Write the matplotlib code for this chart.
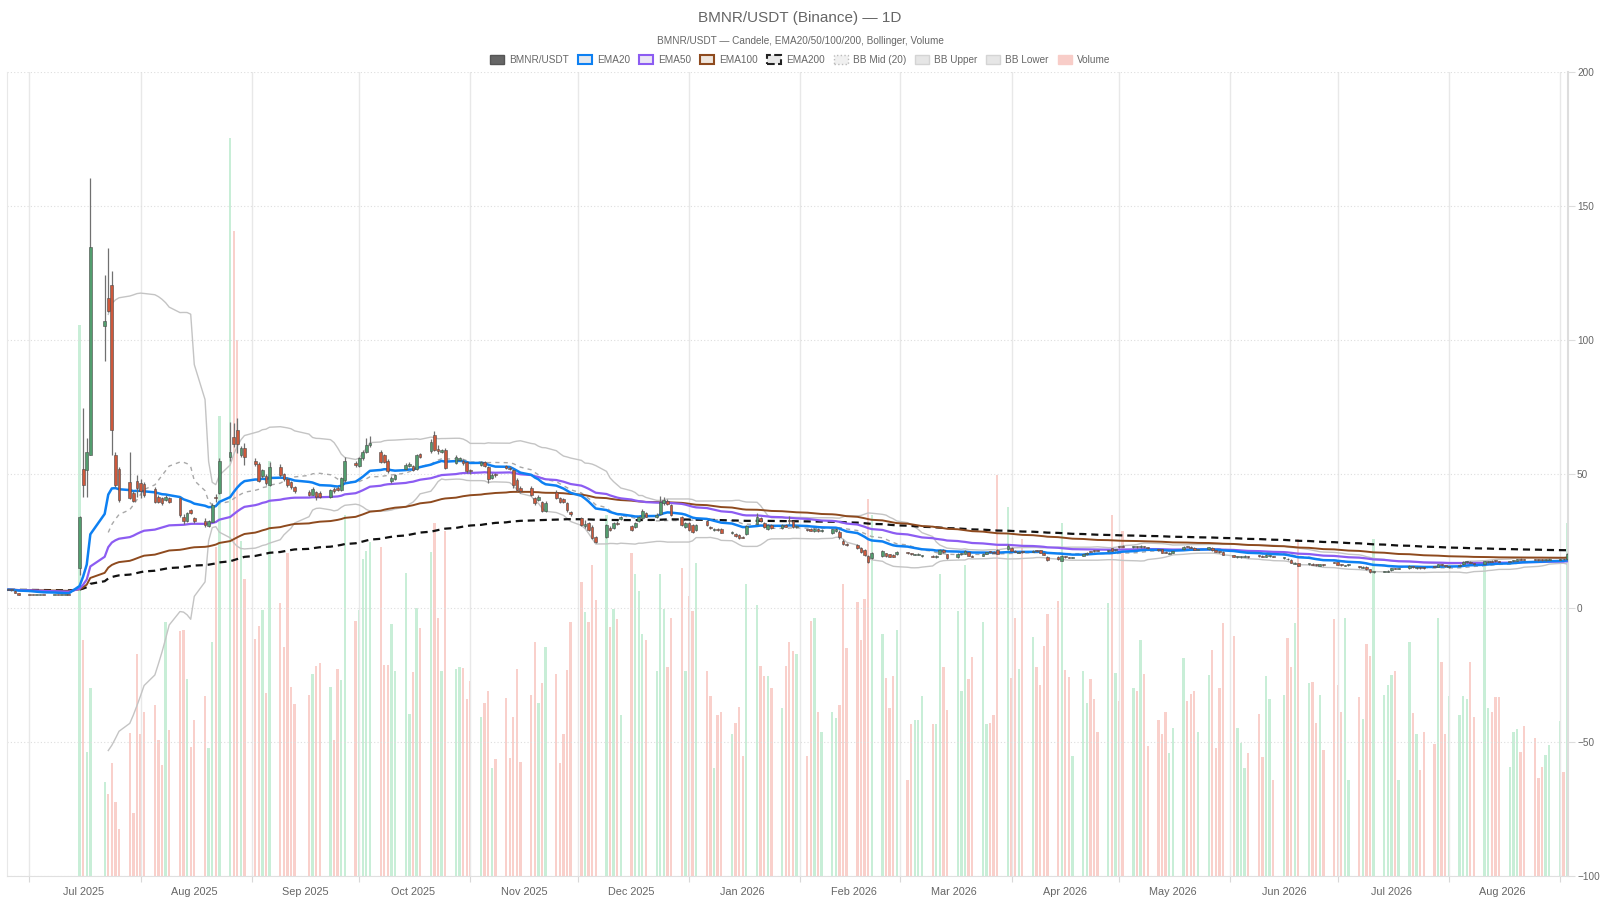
import numpy as np
import pandas as pd
import matplotlib
matplotlib.use('Agg')
import matplotlib.pyplot as plt
import matplotlib.dates as mdates
from matplotlib.patches import Patch

plt.rcParams['font.family'] = ['Liberation Sans', 'DejaVu Sans']

# daily candles (Tue-Sat stamps), two days have no candle
dates = pd.bdate_range('2025-06-25', '2026-09-03', freq='C', weekmask='Tue Wed Thu Fri Sat')
dates = dates.difference(pd.to_datetime(['2025-07-19', '2025-09-16']))

opens = [
    7.0, 6.8, 6.5, 5.6,
    4.95, 4.9, 4.85, 4.9, 4.9,
    4.85, 4.9, 4.85, 4.9, 4.9,
    14.8, 51.8, 51.5, 57.1,
    105.2, 115.6, 120.5, 57.1, 51.8,
    47.2, 43.0, 47.5, 46.5, 46.3,
    44.5, 41.5, 40.9, 40.3, 40.9,
    40.9, 34.0, 32.5, 36.5, 33.5,
    32.5, 30.5, 32.2, 41.3, 43.0,
    56.5, 63.8, 66.4, 57.0, 59.7,
    55.0, 53.7, 49.2, 49.2, 45.9,
    52.5, 50.0, 48.3, 47.0, 45.0,
    43.4, 42.2, 43.4, 43.0,
    41.5, 44.5, 44.8, 44.0, 47.6,
    54.0, 53.0, 55.8, 58.3, 60.8,
    58.3, 57.0, 55.0, 47.3, 48.3,
    52.0, 53.0, 53.0, 52.0, 57.5,
    58.5, 64.5, 59.5, 58.2, 59.0,
    54.2, 55.2, 55.0, 54.5, 51.5,
    53.5, 54.5, 52.5, 48.5, 50.0,
    53.0, 52.4, 51.5, 47.8, 44.8,
    44.7, 40.9, 40.3, 39.5, 36.3,
    43.4, 40.9, 40.5, 39.0, 35.8,
    33.5, 30.5, 31.6, 30.3, 26.6,
    26.6, 30.0, 29.8, 31.8, 33.2,
    30.5, 30.3, 32.5, 33.5, 35.3,
    34.0, 35.0, 39.3, 40.0, 38.4,
    34.1, 30.1, 31.6, 31.0, 29.1,
    32.5, 30.2, 29.2, 29.4, 29.4,
    27.8, 27.6, 27.2, 26.6, 27.5,
    31.5, 33.5, 31.6, 29.5, 31.0,
    29.8, 31.0, 32.8, 32.3, 30.3,
    29.3, 29.4, 28.6, 29.5, 28.8,
    28.0, 28.8, 28.3, 25.1, 24.0,
    23.5, 22.3, 21.6, 19.4, 18.5,
    19.5, 20.4, 20.0, 19.7, 20.0,
    20.6, 20.5, 19.8, 19.9, 19.3,
    19.5, 19.0, 20.3, 21.6, 20.0,
    19.0, 20.0, 20.2, 20.8, 19.5,
    19.5, 20.2, 21.2, 21.0, 21.6,
    22.0, 22.3, 21.4, 20.7, 21.2,
    21.0, 21.5, 21.6, 20.7, 19.2,
    19.2, 17.6, 19.3, 19.0, 18.8,
    19.5, 20.1, 21.2, 21.4, 21.5,
    21.2, 22.3, 21.5, 22.9, 23.2,
    22.6, 22.9, 22.6, 23.0, 22.6,
    22.0, 21.9, 20.9, 20.3, 20.7,
    21.9, 23.0, 22.8, 22.4, 21.8,
    22.0, 22.4, 21.6, 21.2, 21.0,
    19.6, 18.9, 19.0, 19.2, 19.3,
    19.6, 19.4, 19.2, 19.3, 19.3,
    18.5, 18.4, 17.9, 16.5, 16.7,
    16.3, 16.5, 16.2, 15.8, 16.2,
    17.1, 17.0, 16.3, 15.7, 16.0,
    15.6, 15.1, 15.3, 14.4, 13.4,
    13.5, 13.6, 14.0, 14.8, 14.6,
    14.9, 15.4, 14.9, 15.1, 15.0,
    15.6, 15.4, 16.1, 15.8, 15.3,
    15.8, 16.3, 17.0, 17.3, 16.6,
    16.6, 17.1, 17.6, 17.6, 17.4,
    17.3, 17.4, 17.7, 18.3, 18.2,
    18.2, 18.1, 18.0, 17.8, 18.0,
    18.0, 18.4, 18.2,
]

closes = [
    6.8, 6.6, 5.6, 4.9,
    4.9, 4.85, 4.9, 4.9, 4.85,
    4.9, 4.85, 4.9, 4.9, 4.85,
    34.1, 45.9, 58.3, 134.8,
    107.2, 110.9, 66.4, 45.9, 40.3,
    41.1, 40.0, 44.7, 43.5, 42.0,
    39.5, 39.6, 39.0, 41.5, 39.6,
    34.8, 32.5, 35.5, 35.4, 32.3,
    30.8, 32.5, 38.4, 40.9, 54.7,
    58.3, 61.2, 61.2, 59.7, 56.5,
    53.8, 47.4, 51.5, 46.5, 52.6,
    49.8, 48.0, 45.8, 45.0, 43.5,
    42.2, 44.5, 41.5, 41.5,
    44.0, 43.5, 44.0, 48.5, 54.9,
    53.2, 56.0, 58.3, 60.8, 61.5,
    54.5, 54.5, 51.2, 48.5, 49.5,
    53.5, 53.8, 51.5, 57.0, 56.5,
    62.0, 59.0, 58.5, 59.0, 52.2,
    56.5, 55.8, 54.0, 51.0, 51.0,
    54.5, 53.0, 48.0, 49.5, 49.6,
    52.2, 52.0, 46.0, 43.9, 43.5,
    42.2, 39.1, 41.5, 36.3, 39.3,
    40.9, 39.7, 39.5, 36.5, 35.2,
    31.0, 31.5, 29.1, 26.1, 24.7,
    31.0, 29.2, 31.6, 31.2, 34.0,
    29.2, 31.8, 33.8, 36.2, 34.1,
    34.8, 39.6, 40.2, 38.8, 34.8,
    31.0, 31.8, 29.1, 28.5, 31.0,
    31.0, 29.7, 29.5, 29.1, 28.1,
    28.3, 26.8, 26.2, 26.3, 30.6,
    34.0, 32.5, 30.3, 31.0, 29.8,
    31.0, 30.4, 32.3, 30.3, 30.6,
    29.0, 28.9, 29.4, 28.8, 29.2,
    29.3, 29.5, 26.4, 23.9, 23.5,
    22.3, 21.0, 19.7, 17.3, 20.6,
    21.4, 19.4, 19.2, 19.2, 21.0,
    20.4, 20.1, 20.0, 20.1, 19.5,
    19.1, 19.4, 21.8, 20.9, 18.6,
    20.2, 20.3, 21.3, 19.5, 19.2,
    20.2, 20.8, 20.9, 20.6, 20.2,
    23.1, 21.4, 21.0, 21.0, 20.8,
    21.4, 21.2, 20.6, 19.9, 17.9,
    18.3, 19.3, 19.0, 18.8, 19.0,
    20.1, 20.6, 21.0, 21.2, 21.3,
    21.6, 21.4, 21.9, 22.6, 22.9,
    22.9, 22.6, 23.3, 22.6, 22.4,
    21.6, 20.7, 20.6, 20.6, 21.2,
    22.9, 22.8, 22.5, 21.8, 22.0,
    22.7, 21.5, 21.0, 20.9, 19.8,
    19.1, 19.2, 19.3, 19.4, 19.0,
    19.3, 19.1, 19.8, 19.5, 19.1,
    18.7, 18.1, 16.9, 16.9, 15.8,
    16.7, 16.1, 16.0, 16.4, 15.9,
    16.9, 16.2, 16.0, 16.0, 16.2,
    15.3, 15.4, 14.5, 13.4, 13.7,
    13.8, 13.9, 14.8, 14.6, 14.8,
    15.8, 15.2, 15.1, 14.9, 14.8,
    15.4, 16.4, 15.9, 15.6, 15.5,
    16.1, 17.2, 17.4, 16.9, 16.3,
    17.5, 17.4, 17.3, 17.5, 17.2,
    17.5, 17.8, 18.2, 18.0, 18.0,
    18.0, 17.9, 17.8, 18.1, 18.3,
    18.3, 18.1, 20.0,
]

highs = [
    7.1, 6.9, 6.6, 5.7,
    5.0, 5.0, 5.0, 5.0, 5.0,
    5.0, 5.0, 5.0, 5.0, 5.0,
    34.5, 74.6, 63.4, 160.3,
    124.3, 134.2, 125.6, 58.3, 52.5,
    58.3, 43.6, 49.5, 48.0, 47.0,
    45.3, 42.0, 41.5, 42.0, 41.3,
    41.5, 35.0, 36.0, 37.0, 34.0,
    33.6, 33.0, 39.0, 42.5, 56.0,
    69.4, 69.0, 71.0, 60.5, 61.6,
    56.0, 54.5, 52.0, 50.0, 54.5,
    53.6, 50.5, 48.8, 47.5, 45.5,
    44.0, 45.3, 43.8, 43.5,
    44.5, 45.0, 45.5, 49.0, 56.5,
    54.8, 56.5, 58.8, 63.5, 64.0,
    59.0, 57.5, 55.5, 49.2, 50.0,
    54.0, 54.3, 53.5, 57.5, 58.0,
    63.0, 66.0, 61.0, 59.5, 59.8,
    57.0, 56.5, 55.5, 55.0, 52.0,
    55.0, 55.0, 53.0, 50.5, 50.5,
    53.5, 53.0, 52.0, 48.5, 45.5,
    45.5, 41.5, 42.0, 40.0, 39.8,
    44.0, 41.3, 41.0, 39.5, 36.3,
    34.0, 32.8, 32.0, 30.8, 27.0,
    31.5, 30.5, 32.0, 32.3, 34.5,
    31.0, 32.2, 34.2, 36.8, 35.8,
    35.3, 41.8, 41.5, 40.5, 38.8,
    34.5, 32.2, 32.0, 31.3, 31.5,
    32.8, 30.5, 29.8, 29.7, 29.7,
    28.6, 27.9, 27.5, 26.9, 31.0,
    35.5, 33.8, 32.0, 31.3, 31.3,
    31.3, 31.3, 34.2, 32.6, 30.9,
    29.6, 29.7, 29.7, 29.8, 29.5,
    29.6, 29.9, 29.0, 25.6, 24.4,
    23.8, 22.6, 21.9, 19.8, 21.0,
    21.8, 20.7, 20.3, 20.0, 21.3,
    20.9, 20.7, 20.2, 20.4, 19.8,
    19.8, 19.6, 22.1, 21.9, 20.2,
    20.4, 20.5, 21.6, 21.0, 19.8,
    20.4, 21.0, 21.4, 21.2, 21.9,
    24.0, 22.6, 21.6, 21.2, 21.4,
    21.6, 21.7, 21.8, 20.9, 19.4,
    19.4, 19.6, 19.5, 19.2, 19.2,
    20.3, 20.8, 21.4, 21.6, 21.7,
    21.8, 22.5, 22.1, 23.1, 23.4,
    23.1, 23.1, 23.6, 23.2, 22.8,
    22.2, 22.1, 21.1, 20.8, 21.4,
    23.1, 23.2, 23.0, 22.6, 22.2,
    22.9, 22.6, 21.8, 21.4, 21.2,
    19.8, 19.4, 19.5, 19.6, 19.5,
    19.8, 19.6, 20.0, 19.7, 19.5,
    18.9, 18.6, 18.1, 17.1, 16.9,
    16.9, 16.7, 16.4, 16.6, 16.4,
    17.3, 17.2, 16.5, 16.2, 16.4,
    15.8, 15.6, 15.5, 14.6, 13.9,
    13.9, 14.1, 15.0, 15.0, 15.0,
    16.0, 15.6, 15.3, 15.3, 15.2,
    15.8, 16.6, 16.3, 16.0, 15.7,
    16.3, 17.4, 17.6, 17.5, 16.8,
    17.7, 17.6, 17.8, 17.8, 17.6,
    17.7, 18.0, 18.4, 18.5, 18.4,
    18.4, 18.3, 18.2, 18.3, 18.5,
    18.5, 18.6, 20.4,
]

lows = [
    6.7, 6.5, 5.5, 4.8,
    4.8, 4.8, 4.8, 4.8, 4.8,
    4.8, 4.8, 4.8, 4.8, 4.8,
    12.3, 41.5, 41.5, 57.1,
    92.3, 110.5, 57.1, 45.3, 39.5,
    40.6, 39.4, 41.5, 41.0, 41.5,
    39.0, 39.0, 38.5, 39.8, 39.0,
    34.0, 31.5, 32.0, 35.0, 31.7,
    30.2, 30.2, 32.0, 39.5, 42.5,
    54.7, 60.0, 58.0, 56.5, 53.3,
    53.0, 47.0, 48.5, 46.0, 45.5,
    48.8, 47.5, 45.0, 44.5, 43.0,
    41.8, 42.0, 40.3, 41.0,
    41.0, 43.0, 43.5, 43.8, 47.0,
    52.5, 52.5, 55.3, 58.0, 60.0,
    54.0, 54.0, 50.5, 46.8, 47.8,
    51.5, 52.5, 51.0, 51.5, 56.0,
    58.0, 58.5, 57.5, 57.8, 51.8,
    53.8, 54.8, 53.5, 50.5, 50.0,
    53.0, 52.5, 46.5, 48.0, 49.0,
    51.8, 51.5, 44.8, 43.5, 43.0,
    41.8, 38.5, 39.8, 35.8, 36.0,
    40.5, 39.2, 39.0, 36.0, 34.5,
    30.5, 30.0, 28.8, 25.8, 24.1,
    26.0, 28.8, 29.5, 30.8, 32.8,
    28.8, 30.0, 32.2, 33.2, 33.8,
    33.6, 34.8, 38.5, 38.5, 34.3,
    30.6, 29.8, 28.8, 28.0, 28.8,
    30.7, 29.4, 28.9, 28.8, 27.8,
    27.5, 26.5, 25.9, 26.0, 27.2,
    31.2, 32.2, 30.0, 29.2, 29.5,
    29.5, 30.1, 31.5, 30.0, 30.0,
    28.7, 28.6, 28.3, 28.5, 28.5,
    27.7, 28.5, 25.8, 23.5, 23.0,
    22.0, 20.7, 19.4, 16.8, 18.2,
    19.2, 19.1, 18.9, 18.9, 19.8,
    20.1, 19.9, 19.6, 19.7, 19.0,
    18.9, 18.8, 20.1, 20.7, 18.3,
    18.8, 19.8, 20.0, 19.3, 19.0,
    19.3, 20.0, 20.7, 20.4, 20.0,
    21.8, 21.2, 20.8, 20.5, 20.6,
    20.8, 21.0, 20.4, 19.7, 17.6,
    18.0, 17.4, 18.8, 18.6, 18.6,
    19.3, 19.9, 20.8, 21.0, 21.1,
    21.0, 21.2, 21.3, 22.4, 22.7,
    22.4, 22.4, 22.4, 22.4, 22.2,
    21.4, 20.5, 20.4, 20.1, 20.5,
    21.7, 22.6, 22.3, 21.6, 21.6,
    21.8, 21.3, 20.8, 20.7, 19.6,
    18.9, 18.7, 18.8, 19.0, 18.8,
    19.1, 18.9, 19.0, 19.1, 18.9,
    18.3, 17.9, 16.7, 16.3, 15.6,
    16.1, 15.9, 15.8, 15.6, 15.7,
    16.7, 16.0, 15.8, 15.5, 15.8,
    15.1, 14.9, 14.3, 13.2, 13.2,
    13.3, 13.4, 13.9, 14.4, 14.4,
    14.7, 15.0, 14.7, 14.7, 14.6,
    15.2, 15.2, 15.7, 15.4, 15.1,
    15.6, 16.1, 16.8, 16.7, 16.1,
    16.4, 16.9, 17.1, 17.3, 17.0,
    17.1, 17.2, 17.5, 17.8, 17.8,
    17.8, 17.7, 17.6, 17.6, 17.8,
    17.8, 17.9, 18.0,
]

# volume, thousands
volumes = [
    0, 0, 0, 0,
    0, 0, 0, 0, 0,
    0, 0, 0, 0, 0,
    687, 294, 155, 234,
    117, 102, 141, 92, 59,
    178, 79, 276, 177, 204,
    213, 169, 138, 316, 182,
    305, 306, 245, 161, 194,
    224, 160, 292, 410, 573,
    919, 803, 668, 417, 370,
    295, 312, 331, 228, 517,
    340, 285, 402, 235, 214,
    225, 252, 262, 266,
    235, 170, 258, 244, 450,
    318, 331, 395, 405, 416,
    410, 263, 263, 314, 255,
    378, 202, 254, 334, 309,
    404, 440, 322, 255, 430,
    258, 260, 259, 221, 243,
    198, 215, 230, 134, 146,
    222, 147, 198, 258, 142,
    225, 291, 215, 241, 285,
    252, 141, 177, 257, 316,
    366, 329, 316, 388, 344,
    450, 310, 333, 320, 200,
    403, 376, 355, 302, 294,
    256, 376, 333, 260, 322,
    384, 255, 349, 330, 390,
    256, 224, 134, 200, 204,
    177, 191, 211, 150, 364,
    338, 262, 249, 249, 234,
    209, 262, 291, 280, 276,
    150, 318, 321, 204, 179,
    204, 197, 213, 364, 284,
    342, 294, 345, 470, 450,
    302, 247, 209, 249, 306,
    120, 189, 194, 194, 224,
    190, 189, 376, 260, 207,
    330, 231, 388, 245, 273,
    317, 190, 191, 200, 500,
    460, 247, 322, 258, 420,
    298, 261, 238, 286, 327,
    343, 440, 257, 248, 150,
    256, 216, 245, 220, 180,
    340, 450, 253, 218, 430,
    234, 230, 294, 252, 162,
    194, 177, 204, 153, 184,
    271, 218, 227, 230, 180,
    251, 281, 159, 234, 315,
    299, 184, 166, 135, 153,
    202, 148, 249, 220, 120,
    225, 297, 260, 315, 420,
    240, 242, 191, 226, 157,
    320, 238, 204, 321, 120,
    223, 196, 289, 274, 420,
    226, 238, 251, 255, 120,
    291, 203, 177, 132, 179,
    164, 321, 267, 177, 224,
    201, 224, 220, 267, 198,
    385, 209, 204, 223, 223,
    136, 179, 183, 155, 187,
    172, 122, 136, 151, 163,
    193, 129, 440,
]

df = pd.DataFrame({'open': opens, 'high': highs, 'low': lows,
                   'close': closes, 'volume': volumes}, index=dates)

# indicators
ema20 = df['close'].ewm(span=20, adjust=False).mean()
ema50 = df['close'].ewm(span=50, adjust=False).mean()
ema100 = df['close'].ewm(span=100, adjust=False).mean()
ema200 = df['close'].ewm(span=200, adjust=False).mean()
bb_mid = df['close'].rolling(20).mean()
bb_std = df['close'].rolling(20).std(ddof=0)
bb_up = bb_mid + 2 * bb_std
bb_lo = bb_mid - 2 * bb_std

up = df['close'] >= df['open']
c_up, c_dn = '#529d6e', '#cd583b'
v_up, v_dn = '#c8eed7', '#f9d0cb'
col_ema20, col_ema50, col_ema100 = '#0d80f2', '#8c5cf2', '#8e4a1e'

fig = plt.figure(figsize=(16, 9), dpi=100)
ax = fig.add_axes([7/1600, 24/900, 1561/1600, 804/900])
axv = ax.twinx()
ax.set_zorder(2)
axv.set_zorder(1)
ax.patch.set_visible(False)

# volume
axv.bar(df.index, df['volume'], width=0.65, color=np.where(up, v_up, v_dn), linewidth=0)
axv.set_ylim(0, df['volume'].max() * 1.09)
axv.set_yticks([])
for s in axv.spines.values():
    s.set_visible(False)

# bollinger
ax.plot(df.index, bb_up, color='#c4c4c4', lw=1.0, zorder=2)
ax.plot(df.index, bb_lo, color='#c4c4c4', lw=1.0, zorder=2)
ax.plot(df.index, bb_mid, color='#a8a8a8', lw=1.0, ls=(0, (3, 3)), zorder=2)

# emas
ax.plot(df.index, ema200, color='#111111', lw=1.6, ls=(0, (3.2, 2.2)), zorder=3)
ax.plot(df.index, ema100, color=col_ema100, lw=1.4, zorder=3)
ax.plot(df.index, ema50, color=col_ema50, lw=1.6, zorder=3)
ax.plot(df.index, ema20, color=col_ema20, lw=1.8, zorder=3)

# candles
ax.vlines(df.index, df['low'], df['high'], color='#707070', lw=0.9, zorder=4)
body_lo = np.minimum(df['open'], df['close'])
body_h = np.maximum((df['close'] - df['open']).abs(), 0.35)
ax.bar(df.index, body_h, bottom=body_lo, width=0.75,
       color=np.where(up, c_up, c_dn), edgecolor='#4a4a4a', linewidth=0.4, zorder=5)

# axes styling
ax.set_ylim(-100, 200)
ax.set_xlim(df.index[0] - pd.Timedelta(hours=6), df.index[-1] + pd.Timedelta(hours=6))
ax.yaxis.tick_right()
ax.set_yticks(range(-100, 201, 50))
ax.tick_params(axis='y', colors='#dddddd', labelcolor='#666666', labelsize=7.2, length=5, pad=1.5)
ax.grid(axis='y', color='#dedede', lw=0.8, ls=(0, (1, 2)))

ax.xaxis.set_major_locator(mdates.MonthLocator())
ax.xaxis.set_major_formatter(plt.NullFormatter())
ax.xaxis.set_minor_locator(mdates.MonthLocator(bymonthday=16))
ax.xaxis.set_minor_formatter(mdates.DateFormatter('%b %Y'))
ax.tick_params(axis='x', which='major', colors='#d8d8d8', length=4)
ax.tick_params(axis='x', which='minor', length=0, labelcolor='#666666', labelsize=7.8, pad=8)
ax.grid(axis='x', which='major', color='#e8e8e8', lw=1.0)

ax.spines['top'].set_visible(False)
ax.spines['left'].set_color('#e8e8e8')
ax.spines['right'].set_color('#dddddd')
ax.spines['right'].set_linewidth(1.5)
ax.spines['bottom'].set_color('#e0e0e0')

fig.text(0.5, 1 - 18/900, 'BMNR/USDT (Binance) \u2014 1D', ha='center', va='center',
         fontsize=11, color='#666666')
fig.text(0.5, 1 - 41/900, 'BMNR/USDT \u2014 Candele, EMA20/50/100/200, Bollinger, Volume',
         ha='center', va='center', fontsize=7.2, color='#666666')

handles = [
    Patch(facecolor='#666666', edgecolor='#555555', label='BMNR/USDT'),
    Patch(facecolor='#e4e8ee', edgecolor=col_ema20, lw=1.5, label='EMA20'),
    Patch(facecolor='#ebe6f5', edgecolor=col_ema50, lw=1.5, label='EMA50'),
    Patch(facecolor='#efe6de', edgecolor=col_ema100, lw=1.5, label='EMA100'),
    Patch(facecolor='#e8e8e8', edgecolor='#222222', lw=1.5, ls='--', label='EMA200'),
    Patch(facecolor='#f0f0f0', edgecolor='#bbbbbb', lw=1.0, ls=':', label='BB Mid (20)'),
    Patch(facecolor='#e6e6e6', edgecolor='#d4d4d4', lw=1.0, label='BB Upper'),
    Patch(facecolor='#e6e6e6', edgecolor='#d4d4d4', lw=1.0, label='BB Lower'),
    Patch(facecolor='#f8cdc8', edgecolor='#f8cdc8', lw=1.0, label='Volume'),
]
fig.legend(handles=handles, loc='center', bbox_to_anchor=(0.5, 1 - 60/900), ncol=9,
           frameon=False, fontsize=7.2, labelcolor='#666666', handlelength=1.4,
           handleheight=1.0, handletextpad=0.5, columnspacing=0.9)

fig.savefig('out.png', dpi=100, facecolor='white')
